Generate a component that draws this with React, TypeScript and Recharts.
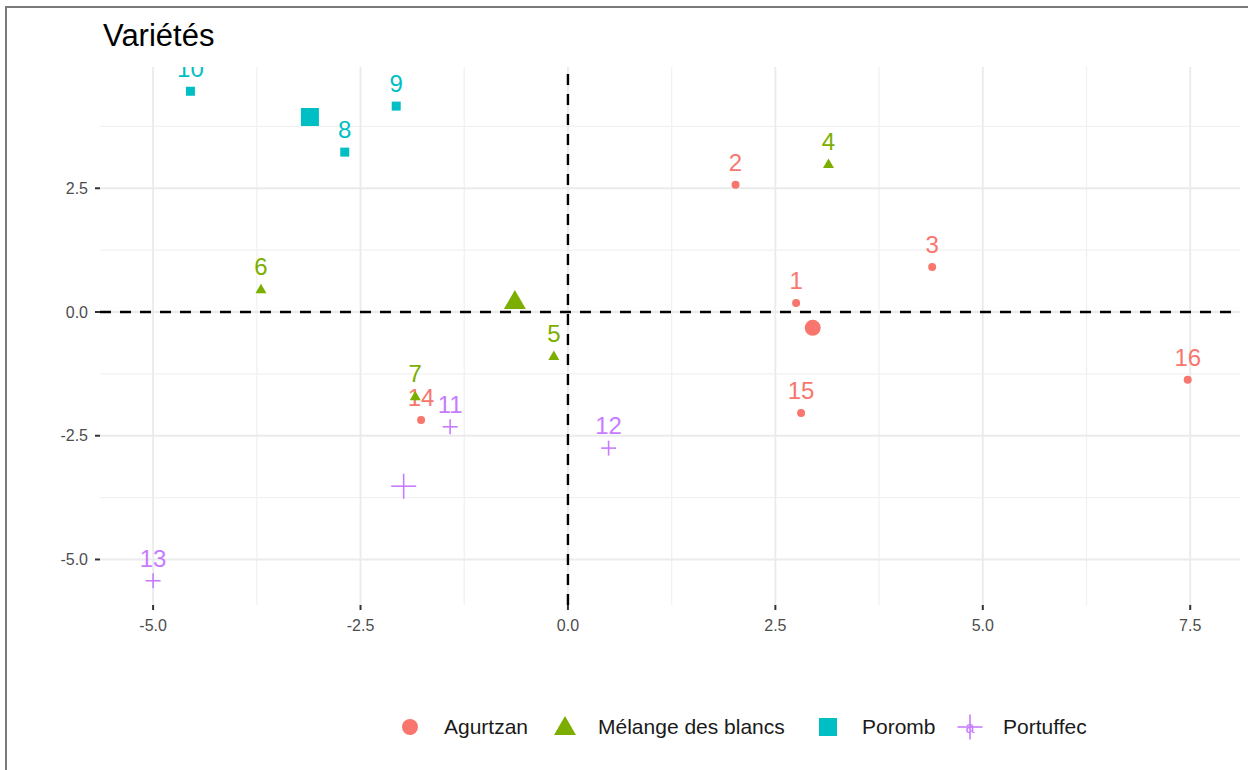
import React from "react";
import { CartesianGrid, ReferenceLine, Scatter, ScatterChart, XAxis, YAxis } from "recharts";

// groupes de variétés
const groups = ["Agurtzan", "Mélange des blancs", "Poromb", "Portuffec"];
const groupColors = ["#F8766D", "#7CAE00", "#00BFC4", "#C77CFF"];
const groupShapes = ["circle", "triangle", "square", "plus"];

// individus (coordonnées sur les deux premiers axes)
const agurtzanIds = ["1", "2", "3", "14", "15", "16"];
const agurtzanX = [2.75, 2.02, 4.39, -1.77, 2.81, 7.47];
const agurtzanY = [0.18, 2.57, 0.91, -2.18, -2.04, -1.37];

const melangeIds = ["4", "5", "6", "7"];
const melangeX = [3.14, -0.17, -3.7, -1.84];
const melangeY = [2.99, -0.89, 0.46, -1.7];

const porombIds = ["8", "9", "10"];
const porombX = [-2.69, -2.07, -4.55];
const porombY = [3.23, 4.16, 4.46];

const portuffecIds = ["11", "12", "13"];
const portuffecX = [-1.42, 0.49, -5.0];
const portuffecY = [-2.32, -2.75, -5.43];

// barycentres des groupes
const centroidX = [2.95, -0.64, -3.11, -1.98];
const centroidY = [-0.32, 0.22, 3.94, -3.52];

const xTicks = [-5, -2.5, 0, 2.5, 5, 7.5];
const yTicks = [-5, -2.5, 0, 2.5];
const xMinor = [-3.75, -1.25, 1.25, 3.75, 6.25];
const yMinor = [-3.75, -1.25, 1.25, 3.75];

const FONT = '"Liberation Sans", Arial, Helvetica, sans-serif';

const toPoints = (ids: string[], xs: number[], ys: number[]) =>
  ids.map((id, i) => ({ id, x: xs[i], y: ys[i] }));

const individuals = [
  toPoints(agurtzanIds, agurtzanX, agurtzanY),
  toPoints(melangeIds, melangeX, melangeY),
  toPoints(porombIds, porombX, porombY),
  toPoints(portuffecIds, portuffecX, portuffecY),
];

function drawSymbol(kind: string, cx: number, cy: number, color: string, big: boolean) {
  const k = big ? 2 : 1;
  if (kind === "circle") return <circle cx={cx} cy={cy} r={4 * k} fill={color} />;
  if (kind === "triangle") {
    const w = 5.5 * k;
    const pts = `${cx},${cy - 5.5 * k} ${cx - w},${cy + 4 * k} ${cx + w},${cy + 4 * k}`;
    return <polygon points={pts} fill={color} />;
  }
  if (kind === "square") {
    const s = 4.5 * k;
    return <rect x={cx - s} y={cy - s} width={2 * s} height={2 * s} fill={color} />;
  }
  const h = big ? 12.5 : 7.5;
  return (
    <g stroke={color} strokeWidth={1.6}>
      <line x1={cx - h} y1={cy} x2={cx + h} y2={cy} />
      <line x1={cx} y1={cy - h} x2={cx} y2={cy + h} />
    </g>
  );
}

const pointShape = (g: number) => (props: any) => {
  const { cx, cy, payload } = props;
  return (
    <g>
      {drawSymbol(groupShapes[g], cx, cy, groupColors[g], false)}
      <text x={cx} y={cy - 14} textAnchor="middle" fontSize={24} fill={groupColors[g]} fontFamily={FONT}>
        {payload.id}
      </text>
    </g>
  );
};

const centroidShape = (g: number) => (props: any) => drawSymbol(groupShapes[g], props.cx, props.cy, groupColors[g], true);

const legendX = [410, 565, 828, 970];
const legendTextX = [444, 598, 862, 1003];

export default function App() {
  return (
    <div style={{ position: "absolute", left: 0, top: 0, width: 1248, height: 770, background: "#fff", fontFamily: FONT }}>
      <div
        style={{
          position: "absolute",
          left: 5,
          top: 6,
          width: 1250,
          height: 770,
          borderLeft: "2px solid #7a7a7a",
          borderTop: "2px solid #7a7a7a",
        }}
      />
      <ScatterChart width={1248} height={770} margin={{ top: 67, right: 8, bottom: 0, left: 0 }}>
        <CartesianGrid stroke="#F1F1F1" strokeWidth={1.3} verticalValues={xMinor} horizontalValues={yMinor} />
        <CartesianGrid stroke="#EBEBEB" strokeWidth={1.9} verticalValues={xTicks} horizontalValues={yTicks} />
        <XAxis
          type="number"
          dataKey="x"
          domain={[-5.64, 8.1]}
          ticks={xTicks}
          allowDataOverflow
          axisLine={false}
          tickLine={{ stroke: "#333", strokeWidth: 2 }}
          tickSize={5}
          tickMargin={10}
          height={165}
          tick={{ fontSize: 16, fill: "#4D4D4D", fontFamily: FONT }}
          tickFormatter={(v: number) => v.toFixed(1)}
        />
        <YAxis
          type="number"
          dataKey="y"
          domain={[-5.92, 4.95]}
          ticks={yTicks}
          allowDataOverflow
          axisLine={false}
          tickLine={{ stroke: "#333", strokeWidth: 2 }}
          tickSize={5}
          tickMargin={7}
          width={100}
          tick={{ fontSize: 16, fill: "#4D4D4D", fontFamily: FONT }}
          tickFormatter={(v: number) => v.toFixed(1)}
        />
        {individuals.map((pts, g) => (
          <Scatter key={groups[g]} name={groups[g]} data={pts} shape={pointShape(g)} isAnimationActive={false} />
        ))}
        {groups.map((name, g) => (
          <Scatter
            key={name + "-centre"}
            data={[{ x: centroidX[g], y: centroidY[g] }]}
            shape={centroidShape(g)}
            isAnimationActive={false}
          />
        ))}
        <ReferenceLine x={0} stroke="#000" strokeWidth={2.4} strokeDasharray="11 9" />
        <ReferenceLine y={0} stroke="#000" strokeWidth={2.4} strokeDasharray="11 9" />
      </ScatterChart>
      <svg width={1248} height={770} style={{ position: "absolute", left: 0, top: 0, pointerEvents: "none" }}>
        <text x={103} y={46} fontSize={31} fill="#000" fontFamily={FONT}>
          Variétés
        </text>
        {groups.map((name, g) => (
          <g key={name}>
            {drawSymbol(groupShapes[g], legendX[g], 727, groupColors[g], true)}
            {g === 3 && (
              <text x={legendX[g]} y={733} textAnchor="middle" fontSize={16} fill={groupColors[g]} fontFamily={FONT}>
                a
              </text>
            )}
            <text x={legendTextX[g]} y={734} fontSize={21} fill="#1a1a1a" fontFamily={FONT}>
              {name}
            </text>
          </g>
        ))}
      </svg>
    </div>
  );
}
